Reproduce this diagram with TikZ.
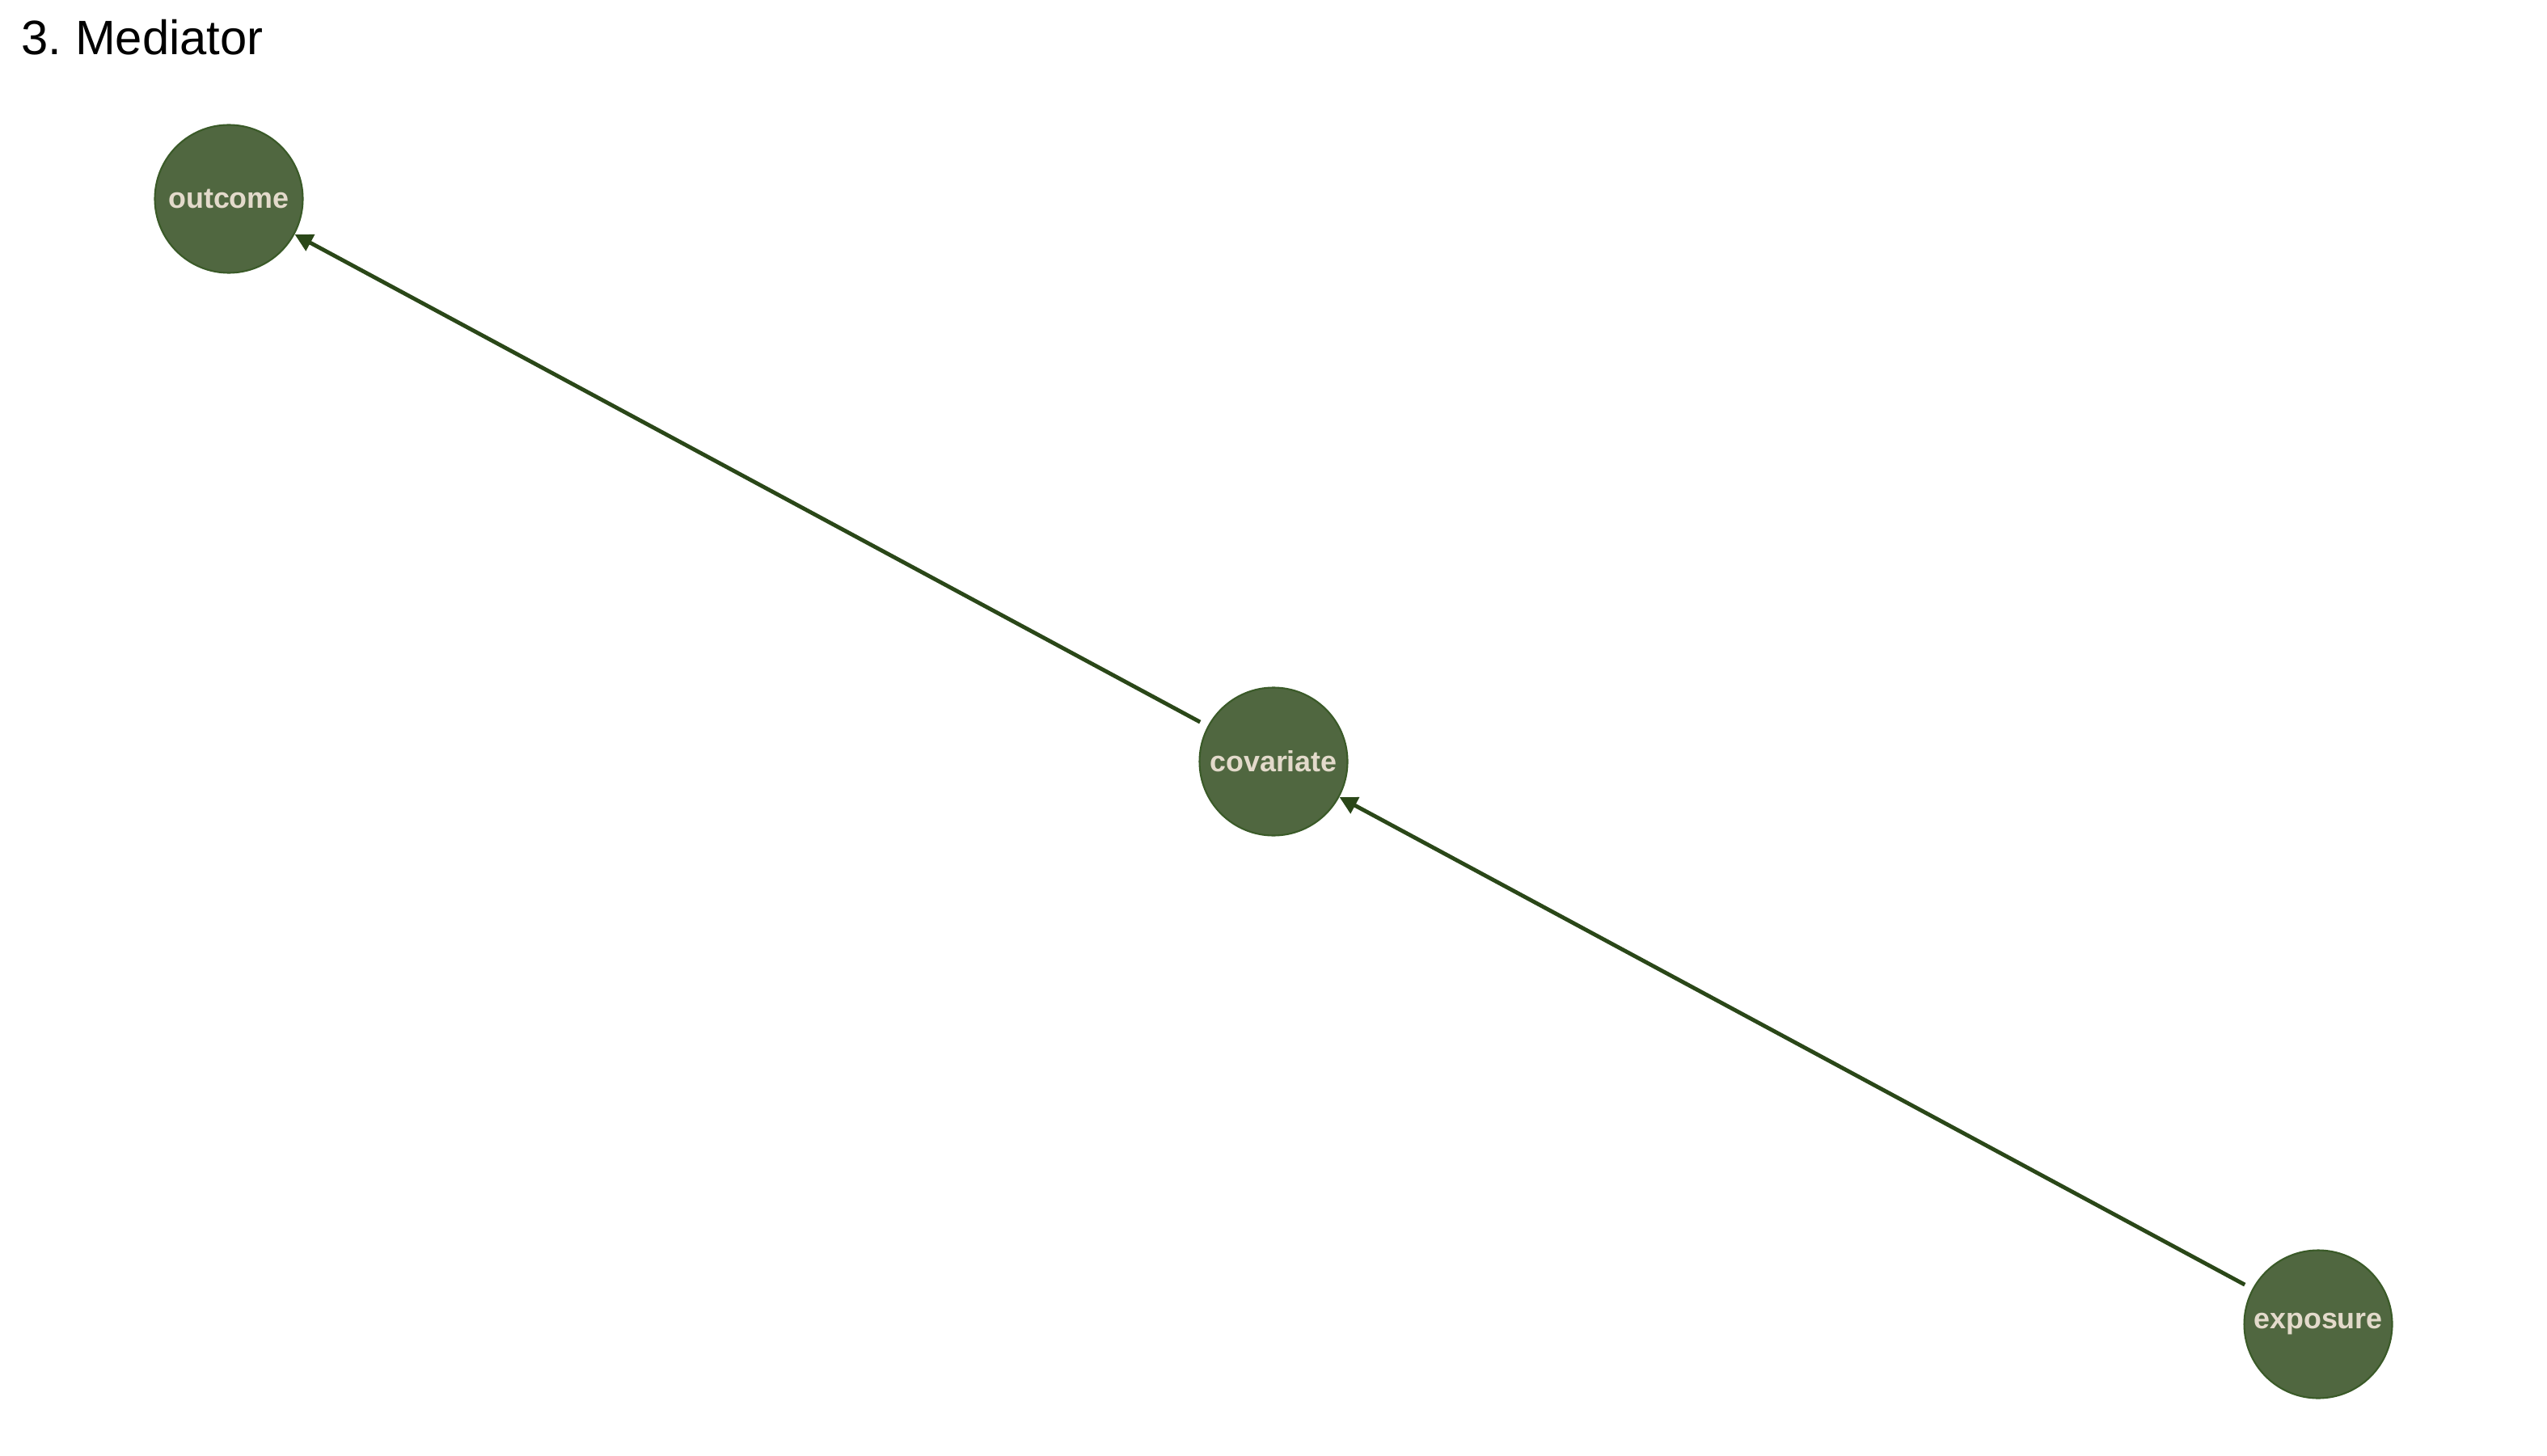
\documentclass[tikz,border=0pt]{standalone}
\usepackage{fontspec}
\setmainfont{Liberation Sans}
\usetikzlibrary{arrows.meta}
\definecolor{nodefill}{HTML}{506740}
\definecolor{nodeline}{HTML}{3A5A28}
\definecolor{edgecol}{HTML}{2A4718}
\definecolor{labelcol}{HTML}{E3DACB}
\begin{document}
\begin{tikzpicture}[
    var/.style={circle, minimum size=1.83cm, inner sep=0pt, fill=nodefill, draw=nodeline, line width=0.6pt, text=labelcol, font=\fontsize{10.2}{12}\selectfont\bfseries},
    edge/.style={draw=edgecol, line width=1.4pt, -{Triangle[length=0.22cm, width=0.22cm]}, shorten <=3pt}
]
    \useasboundingbox (0,0) rectangle (31.5,18);

    % Title
    \node[anchor=base west, inner sep=0pt, font=\fontsize{17}{20}\selectfont] (title) at (0.26,17.32) {3.\ Mediator};

    % Variables
    \node[var] (outcome) at (2.83,15.54) {outcome};
    \node[var] (covariate) at (15.75,8.58) {covariate};
    \node[var] (exposure) at (28.67,1.62) {exposure};

    % Paths
    \draw[edge] (covariate) -- (outcome);
    \draw[edge] (exposure) -- (covariate);

\end{tikzpicture}
\end{document}
